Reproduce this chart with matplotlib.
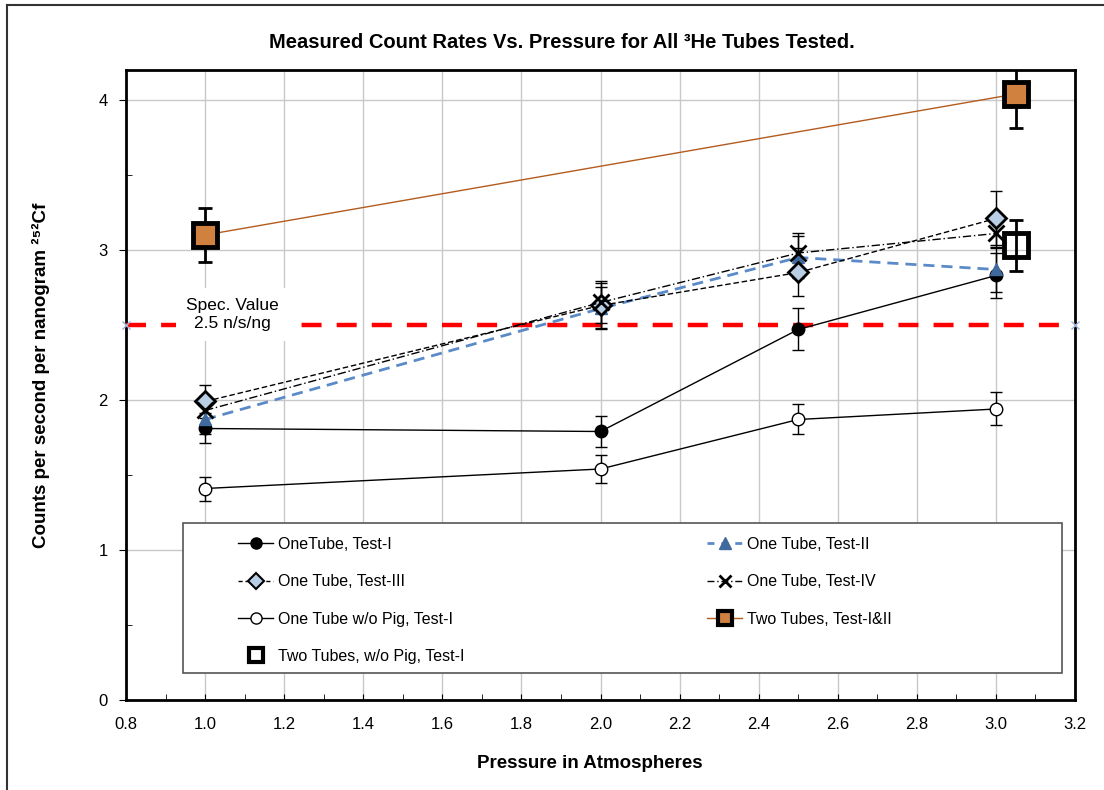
import matplotlib
matplotlib.use("Agg")
import matplotlib.pyplot as plt
from matplotlib.lines import Line2D
from matplotlib.patches import Rectangle
from matplotlib.ticker import MultipleLocator, FormatStrFormatter

# Messdaten (Druck in atm, Zaehlrate in n/s/ng)
pressure = [1.0, 2.0, 2.5, 3.0]

one_t1 = [1.81, 1.79, 2.47, 2.83]
one_t1_err = [0.10, 0.10, 0.14, 0.15]

one_t2 = [1.87, 2.61, 2.95, 2.87]
one_t2_err = [0.10, 0.14, 0.14, 0.15]

one_t3 = [1.99, 2.63, 2.85, 3.21]
one_t3_err = [0.11, 0.15, 0.16, 0.18]

one_t4 = [1.93, 2.65, 2.98, 3.11]
one_t4_err = [0.10, 0.14, 0.13, 0.10]

nopig_t1 = [1.41, 1.54, 1.87, 1.94]
nopig_t1_err = [0.08, 0.09, 0.10, 0.11]

two_x = [1.0, 3.05]
two_t12 = [3.10, 4.04]
two_t12_err = [0.18, 0.23]

two_nopig_x = [3.05]
two_nopig = [3.03]
two_nopig_err = [0.17]

spec_x = [0.8, 3.2]
spec_value = 2.5

fonts = ["Liberation Sans", "DejaVu Sans"]

fig = plt.figure(figsize=(11.04, 7.9), dpi=100)
ax = fig.add_axes([126 / 1104, 1 - 700 / 790, (1075 - 126) / 1104, (700 - 70) / 790])

eb = dict(ecolor="black", elinewidth=1, capsize=4, capthick=1)

ax.plot(spec_x, [spec_value, spec_value], color="red", lw=3.2, dashes=(4.5, 3.4),
        zorder=3)
ax.plot(spec_x, [spec_value, spec_value], ls="none", marker="x", ms=6,
        color="#9DB3D8", mew=1, zorder=3, clip_on=False)

ax.errorbar(pressure, nopig_t1, yerr=nopig_t1_err, fmt="none", zorder=4, **eb)
ax.plot(pressure, nopig_t1, color="black", lw=1, marker="o", ms=9,
        mfc="white", mec="black", mew=1, zorder=5)

ax.errorbar(pressure, one_t1, yerr=one_t1_err, fmt="none", zorder=4, **eb)
ax.plot(pressure, one_t1, color="black", lw=1, marker="o", ms=9,
        mfc="black", mec="black", zorder=5)

ax.errorbar(pressure, one_t2, yerr=one_t2_err, fmt="none", zorder=4, **eb)
ax.plot(pressure, one_t2, color="#5B8AC8", lw=2, dashes=(4, 2.5), marker="^", ms=9,
        mfc="#3F6A9E", mec="#3F6A9E", zorder=5)

ax.errorbar(pressure, one_t3, yerr=one_t3_err, fmt="none", zorder=4, **eb)
ax.plot(pressure, one_t3, color="black", lw=1, dashes=(4, 2), marker="D", ms=10,
        mfc="#B9CDE5", mec="black", mew=2, zorder=6)

ax.errorbar(pressure, one_t4, yerr=one_t4_err, fmt="none", zorder=4, **eb)
ax.plot(pressure, one_t4, color="black", lw=1, dashes=(6, 2, 1, 2), marker="x",
        ms=12, mec="black", mew=2, zorder=6)

ax.errorbar(two_x, two_t12, yerr=two_t12_err, fmt="none", ecolor="black",
            elinewidth=2, capsize=5, capthick=2, zorder=4)
ax.plot(two_x, two_t12, color="#B35C1E", lw=1, marker="s", ms=17,
        mfc="#D0813F", mec="black", mew=3.5, zorder=6)

ax.errorbar(two_nopig_x, two_nopig, yerr=two_nopig_err, fmt="none", ecolor="black",
            elinewidth=2, capsize=5, capthick=2, zorder=4)
ax.plot(two_nopig_x, two_nopig, ls="none", marker="s", ms=17,
        mfc="none", mec="black", mew=3.5, zorder=6)

ax.text(1.068, 2.57, "Spec. Value\n2.5 n/s/ng", ha="center", va="center",
        fontsize=12.5, family=fonts, linespacing=1.25, zorder=7,
        bbox=dict(facecolor="white", edgecolor="none", pad=7))

ax.set_xlim(0.8, 3.2)
ax.set_ylim(0, 4.2)
ax.xaxis.set_major_locator(MultipleLocator(0.2))
ax.xaxis.set_minor_locator(MultipleLocator(0.1))
ax.yaxis.set_major_locator(MultipleLocator(1))
ax.yaxis.set_minor_locator(MultipleLocator(0.5))
ax.xaxis.set_major_formatter(FormatStrFormatter("%.1f"))
ax.grid(True, which="major", color="#C8C8C8", lw=1)
ax.set_axisbelow(True)
ax.tick_params(axis="x", which="both", direction="in", length=4, labelsize=12,
               pad=12)
ax.tick_params(axis="y", which="major", direction="out", length=5, labelsize=12,
               pad=8)
ax.tick_params(axis="y", which="minor", direction="in", length=4)
for lab in ax.get_xticklabels() + ax.get_yticklabels():
    lab.set_family(fonts)
for sp in ax.spines.values():
    sp.set_linewidth(2)
    sp.set_color("black")

ax.set_xlabel("Pressure in Atmospheres", fontsize=13.5, fontweight="bold",
              family=fonts)
ax.xaxis.set_label_coords((590 - 126) / 949, -(755 - 700) / 630)
ax.set_ylabel("Counts per second per nanogram \u00b2\u2075\u00b2Cf", fontsize=13.5,
              fontweight="bold", family=fonts)
ax.yaxis.set_label_coords(-(126 - 50) / 949, (700 - 375) / 630)
fig.text(562 / 1104, 1 - 42 / 790,
         "Measured Count Rates Vs. Pressure for All \u00b3He Tubes Tested.",
         ha="center", va="center", fontsize=14.5, fontweight="bold", family=fonts)

# Legende mit eigenem Rahmen
ax.add_patch(Rectangle((0.060, 0.043), 0.926, 0.238, transform=ax.transAxes,
                       facecolor="white", edgecolor="#555555", lw=1.2, zorder=8))
handles = [
    Line2D([], [], color="black", lw=1, marker="o", ms=8, mfc="black"),
    Line2D([], [], color="black", lw=1, dashes=(3, 2), marker="D", ms=8,
           mfc="#B9CDE5", mec="black", mew=1.5),
    Line2D([], [], color="black", lw=1, marker="o", ms=8, mfc="white", mec="black"),
    Line2D([], [], ls="none", marker="s", ms=10, mfc="white", mec="black", mew=3),
    Line2D([], [], color="#5B8AC8", lw=2, dashes=(2.5, 2.5), marker="^", ms=9,
           mfc="#3F6A9E", mec="#3F6A9E"),
    Line2D([], [], color="black", lw=1, dashes=(5, 2, 1, 2), marker="x", ms=9,
           mec="black", mew=2),
    Line2D([], [], color="#B35C1E", lw=1, marker="s", ms=10, mfc="#D0813F",
           mec="black", mew=3),
]
labels = ["OneTube, Test-I", "One Tube, Test-III", "One Tube w/o Pig, Test-I",
          "Two Tubes, w/o Pig, Test-I", "One Tube, Test-II", "One Tube, Test-IV",
          "Two Tubes, Test-I&II"]
leg = ax.legend(handles, labels, ncol=2, loc="upper left",
                bbox_to_anchor=((238 - 126) / 949, (700 - 537) / 630),
                frameon=False, prop={"family": fonts, "size": 11.5},
                handlelength=2.2, handletextpad=0.3, labelspacing=1.4,
                columnspacing=15.2, borderpad=0, borderaxespad=0)
leg.set_zorder(9)

# Rahmen des Diagrammbereichs (links und oben)
fig.add_artist(Line2D([7 / 1104, 7 / 1104], [0, 1 - 5 / 790], color="#333333",
                      lw=1.5, transform=fig.transFigure))
fig.add_artist(Line2D([7 / 1104, 1], [1 - 5 / 790, 1 - 5 / 790], color="#333333",
                      lw=1.5, transform=fig.transFigure))

fig.savefig("out.png", dpi=100)
